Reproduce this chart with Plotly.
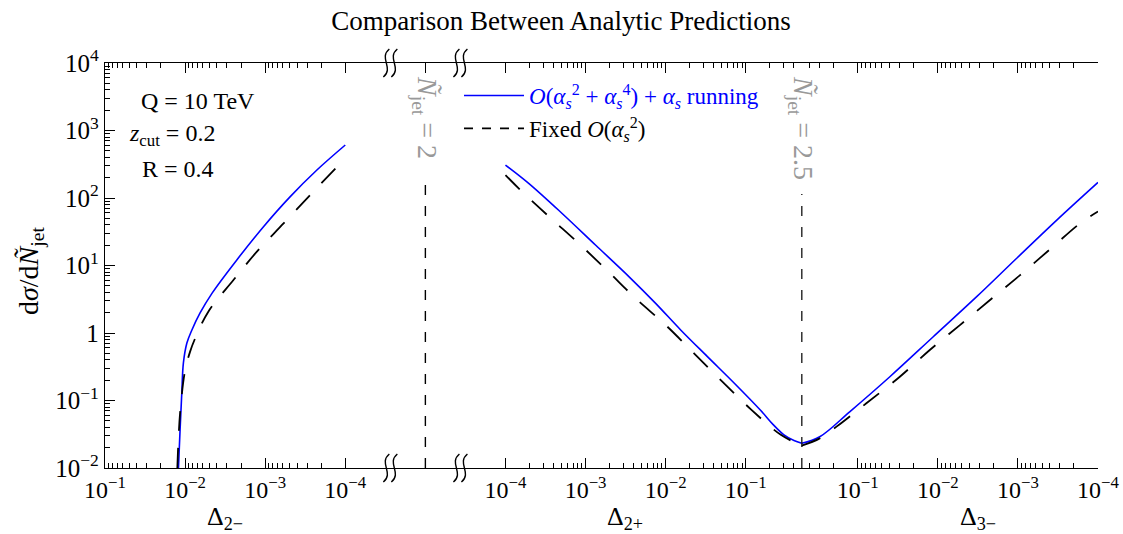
import numpy as np
import plotly.graph_objects as go

# ---- data ------------------------------------------------------------------
# left panel: Delta_{2-}  (axis runs 1e-1 -> 1e-4)
d2m_run_x = [1.21e-2, 1.155e-2, 1.10e-2, 1.05e-2, 9.5e-3, 8.25e-3, 6.5e-3, 4.6e-3, 2.26e-3, 1.05e-3, 4.9e-4, 2.26e-4, 1.0e-4]
d2m_run_y = [0.010, 0.037, 0.128, 0.36, 0.71, 1.1, 1.98, 3.9, 12.1, 37.6, 104, 260, 610]
d2m_fix_x = [1.25e-2, 1.155e-2, 1.0e-2, 8.66e-3, 7.5e-3, 5.13e-3, 2.49e-3, 1.27e-3, 5.9e-4, 2.74e-4, 1.0e-4]
d2m_fix_y = [0.010, 0.065, 0.28, 0.53, 0.83, 2.07, 6.1, 16.0, 42, 111, 387]

# middle panel: Delta_{2+}  (1e-4 -> 0.5)
d2p_run_x = [1e-4, 1.95e-4, 5.1e-4, 1.33e-3, 3.5e-3, 7.5e-3, 1.54e-2, 3.3e-2, 7.2e-2, 0.154, 0.22, 0.30, 0.40, 0.5]
d2p_run_y = [308, 165, 59, 20.1, 6.8, 2.75, 1.11, 0.45, 0.18, 0.071, 0.044, 0.031, 0.0255, 0.0232]
d2p_fix_x = [1e-4, 1.54e-4, 3.5e-4, 8.2e-4, 1.87e-3, 4.2e-3, 1.0e-2, 2.26e-2, 5.1e-2, 0.116, 0.274, 0.5]
d2p_fix_y = [219, 131, 53, 21.3, 8.4, 3.27, 1.31, 0.50, 0.19, 0.074, 0.031, 0.0215]

# right panel: Delta_{3-}  (0.5 -> 1e-4)
d3m_run_x = [0.5, 0.298, 0.126, 3.97e-2, 1.14e-2, 3.27e-3, 1.035e-3, 3.27e-4, 1e-4]
d3m_run_y = [0.0232, 0.029, 0.068, 0.225, 0.88, 3.45, 12.8, 47, 170]
d3m_fix_x = [0.5, 0.298, 0.184, 7.8e-2, 2.98e-2, 1.26e-2, 5.3e-3, 2.23e-3, 9.4e-4, 3.97e-4, 1.68e-4, 1e-4]
d3m_fix_y = [0.0215, 0.0275, 0.041, 0.091, 0.225, 0.56, 1.31, 3.08, 7.2, 17.4, 42, 63]

# reference lines at N_jet = 2 and N_jet = 2.5 (Delta = 0.5)
njet2_x = [2, 2]
njet2_y = [0.01, 190]
njet25_x = [0.5, 0.5]
njet25_y = [0.01, 115]

y_tickvals = [1e-2, 1e-1, 1, 1e1, 1e2, 1e3, 1e4]
y_ticktext = ["10<sup>−2</sup>", "10<sup>−1</sup>", "1", "10<sup>1</sup>",
              "10<sup>2</sup>", "10<sup>3</sup>", "10<sup>4</sup>"]

# ---- layout geometry ---------------------------------------------------------
# body margin is reset to 0 in post_script, so page pixels == figure pixels
W, H = 1123, 534
X0, X1, Y0, Y1 = 105, 1098, 63, 468      # plot area in pixels
PW = X1 - X0
PH = Y1 - Y0
L, T = X0, Y0
R, B = W - X1, H - Y1

half = np.log10(0.5)
r1 = [-1, -4.5625]          # reversed
gap = 0.875                 # width of the break, in decades
r2 = [-4.5625, half]
r3 = [half, -4]             # reversed
spans = [abs(r1[1] - r1[0]), gap, r2[1] - r2[0], abs(r3[1] - r3[0])]
tot = sum(spans)
edges = np.cumsum([0] + spans) / tot
dom1 = [edges[0], edges[1]]
domg = [edges[1], edges[2]]
dom2 = [edges[2], edges[3]]
dom3 = [edges[3], 1.0]


def minors(decades, ks=range(2, 10)):
    return [k * 10.0 ** d for d in decades for k in ks]


FONT = "Liberation Serif, Times New Roman, serif"
BLUE = "#0000ff"

fig = go.Figure()

run_line = dict(color=BLUE, width=1.6)
fix_line = dict(color="black", width=1.8, dash="20px,17px")
ref_line = dict(color="black", width=1.4, dash="10px,11px")

fig.add_trace(go.Scatter(x=d2m_run_x, y=d2m_run_y, xaxis="x", yaxis="y", mode="lines",
                         line=run_line, line_shape="spline", showlegend=False))
fig.add_trace(go.Scatter(x=d2m_fix_x, y=d2m_fix_y, xaxis="x", yaxis="y", mode="lines",
                         line=fix_line, line_shape="spline", showlegend=False))
fig.add_trace(go.Scatter(x=d2p_run_x, y=d2p_run_y, xaxis="x2", yaxis="y", mode="lines",
                         line=run_line, line_shape="spline", showlegend=False))
fig.add_trace(go.Scatter(x=d2p_fix_x, y=d2p_fix_y, xaxis="x2", yaxis="y", mode="lines",
                         line=fix_line, line_shape="spline", showlegend=False))
fig.add_trace(go.Scatter(x=d3m_run_x, y=d3m_run_y, xaxis="x3", yaxis="y", mode="lines",
                         line=run_line, line_shape="spline", showlegend=False))
fig.add_trace(go.Scatter(x=d3m_fix_x, y=d3m_fix_y, xaxis="x3", yaxis="y", mode="lines",
                         line=fix_line, line_shape="spline", showlegend=False))

# vertical markers
fig.add_trace(go.Scatter(x=njet2_x, y=njet2_y, xaxis="x4", yaxis="y", mode="lines",
                         line=ref_line, showlegend=False))
fig.add_trace(go.Scatter(x=njet25_x, y=njet25_y, xaxis="x2", yaxis="y", mode="lines",
                         line=ref_line, showlegend=False))
fig.add_trace(go.Scatter(x=njet25_x, y=njet25_y, xaxis="x3", yaxis="y", mode="lines",
                         line=ref_line, showlegend=False))

# legend entries
fig.add_trace(go.Scatter(x=[None], y=[None], xaxis="x2", yaxis="y", mode="lines",
                         line=run_line,
                         name="<span style='color:#0000ff'><i>O</i>(<i>α</i><sub><i>s</i></sub><sup>2</sup> + "
                              "<i>α</i><sub><i>s</i></sub><sup>4</sup>) + <i>α</i><sub><i>s</i></sub> running</span>"))
fig.add_trace(go.Scatter(x=[None], y=[None], xaxis="x2", yaxis="y", mode="lines",
                         line=dict(color="black", width=1.8, dash="9px,9px"),
                         name="Fixed <i>O</i>(<i>α</i><sub><i>s</i></sub><sup>2</sup>)"))

tickfont = dict(family=FONT, size=24, color="black")
common_x = dict(type="log", showline=True, linecolor="black", linewidth=1.3, mirror="ticks",
                ticks="inside", ticklen=10, tickwidth=1.2, tickcolor="black", automargin=False,
                showgrid=False, zeroline=False, tickfont=tickfont, anchor="y")

dec_lab = {1e-1: "10<sup>−1</sup>", 1e-2: "10<sup>−2</sup>", 1e-3: "10<sup>−3</sup>", 1e-4: "10<sup>−4</sup>"}

x1_vals = [1e-1, 1e-2, 1e-3, 1e-4]
x2_vals = [1e-4, 1e-3, 1e-2, 1e-1, 0.5]
x3_vals = [0.5, 1e-1, 1e-2, 1e-3, 1e-4]

minor_style = dict(ticks="inside", ticklen=5, tickwidth=1.1, tickcolor="black", showgrid=False)

fig.update_layout(
    width=W, height=H,
    margin=dict(l=L, r=R, t=T, b=B, autoexpand=False),
    plot_bgcolor="white", paper_bgcolor="white",
    font=dict(family=FONT, size=24, color="black"),
    title=dict(text="Comparison Between Analytic Predictions", x=561 / W, xref="container",
               y=1 - 21 / H, yref="container", xanchor="center", yanchor="middle",
               font=dict(family=FONT, size=27, color="black")),
    xaxis=dict(common_x, domain=dom1, range=r1,
               tickvals=x1_vals, ticktext=[dec_lab[v] for v in x1_vals],
               minor=dict(minor_style, tickvals=minors([-2, -3, -4]))),
    xaxis2=dict(common_x, domain=dom2, range=r2,
                tickvals=x2_vals, ticktext=[dec_lab.get(v, "") for v in x2_vals],
                minor=dict(minor_style, tickvals=minors([-4, -3, -2]) + minors([-1], range(2, 5)))),
    xaxis3=dict(common_x, domain=dom3, range=r3,
                tickvals=x3_vals, ticktext=[dec_lab.get(v, "") for v in x3_vals],
                minor=dict(minor_style, tickvals=minors([-2, -3, -4]) + minors([-1], range(2, 5)))),
    xaxis4=dict(type="linear", domain=domg, range=[1.99, 2.01], anchor="y", automargin=False,
                showline=True, linecolor="black", linewidth=1.3, mirror="ticks",
                ticks="inside", ticklen=10, tickwidth=1.2, tickcolor="black",
                tickvals=[2], showticklabels=False, showgrid=False, zeroline=False),
    yaxis=dict(type="log", range=[-2, 4], domain=[0, 1], anchor="x", automargin=False,
               showline=True, linecolor="black", linewidth=1.3,
               ticks="inside", ticklen=10, tickwidth=1.2, tickcolor="black",
               tickvals=y_tickvals, ticktext=y_ticktext, tickfont=dict(tickfont, size=25),
               showgrid=False, zeroline=False,
               minor=dict(minor_style, tickvals=minors(range(-2, 4)))),
    yaxis2=dict(type="log", range=[-2, 4], overlaying="y", side="right", anchor="x3", automargin=False,
                showline=True, linecolor="black", linewidth=1.3,
                ticks="inside", ticklen=10, tickwidth=1.2, tickcolor="black",
                tickvals=y_tickvals, showticklabels=False,
                showgrid=False, zeroline=False,
                minor=dict(minor_style, tickvals=minors(range(-2, 4)))),
    legend=dict(x=(459 - X0) / PW, y=(Y1 - 74) / PH, xanchor="left", yanchor="top",
                bgcolor="rgba(0,0,0,0)", font=dict(family=FONT, size=23, color="black"),
                itemwidth=60, tracegroupgap=0),
    showlegend=True,
)


def px(xp, yp):
    return (xp - X0) / PW, (Y1 - yp) / PH


# text annotations
notes = [
    ("Q = 10 TeV", 198, 101, 0, "black", 24),
    ("<i>z</i><sub>cut</sub> = 0.2", 172, 135, 0, "black", 24),
    ("R = 0.4", 178, 169, 0, "black", 24),
    ("<i>Ñ</i><sub>jet</sub> = 2", 425, 117, 90, "#999999", 28),
    ("<i>Ñ</i><sub>jet</sub> = 2.5", 802, 128, 90, "#999999", 28),
]
for txt, xp, yp, ang, col, fs in notes:
    ax_, ay_ = px(xp, yp)
    fig.add_annotation(text=txt, x=ax_, y=ay_, xref="paper", yref="paper", showarrow=False,
                       textangle=ang, font=dict(family=FONT, size=fs, color=col),
                       xanchor="center", yanchor="middle", bgcolor="white")

for txt, xp in [("Δ<sub>2−</sub>", 225), ("Δ<sub>2+</sub>", 625), ("Δ<sub>3−</sub>", 978)]:
    ax_, ay_ = px(xp, 518)
    fig.add_annotation(text=txt, x=ax_, y=ay_, xref="paper", yref="paper", showarrow=False,
                       xanchor="center", yanchor="middle",
                       font=dict(family=FONT, size=26, color="black"))

ax_, ay_ = px(30, 271)
fig.add_annotation(text="d<i>σ</i>/d<i>Ñ</i><sub>jet</sub>", x=ax_, y=ay_, xref="paper", yref="paper",
                   showarrow=False, textangle=-90, xanchor="center", yanchor="middle",
                   font=dict(family=FONT, size=28, color="black"))


# axis-break squiggles
def squiggle(cx, cy):
    p = [px(cx + 3, cy - 14), px(cx - 8, cy - 5), px(cx + 8, cy + 5), px(cx - 3, cy + 14)]
    return "M {},{} C {},{} {},{} {},{}".format(*[v for pt in p for v in pt])


for bx in [X0 + dom1[1] * PW, X0 + domg[1] * PW]:
    for by in [Y0, Y1]:
        for off in (-4, 4):
            fig.add_shape(type="path", path=squiggle(bx + off, by), xref="paper", yref="paper",
                          line=dict(color="black", width=1.4), layer="above")

fig.write_html("out.html", config={"displayModeBar": False},
               post_script="document.body.style.margin='0';")
